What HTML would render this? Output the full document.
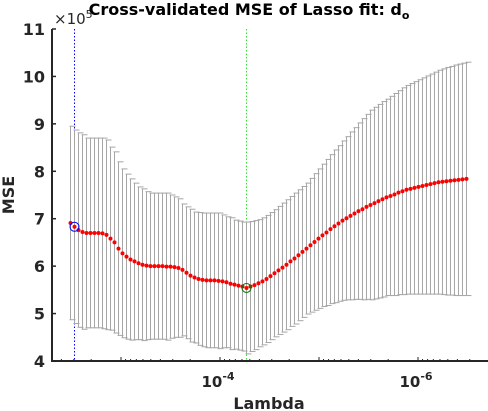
<!DOCTYPE html>
<html><head><meta charset="utf-8">
<style>
html,body{margin:0;padding:0;background:#fff;}
svg{display:block;font-family:"DejaVu Sans","Liberation Sans",sans-serif;}
</style></head>
<body>
<svg id="chart" width="488" height="411" viewBox="0 0 488 411" xmlns="http://www.w3.org/2000/svg">
<g id="grid"></g>
<g id="bars"></g>
<g id="points"></g>
<g id="axes"></g>
<text x="54" y="24" font-size="15" fill="#262626">×10<tspan font-size="11" dy="-6">5</tspan></text>
<text x="249" y="15" text-anchor="middle" font-size="16" font-weight="bold" fill="#000">Cross-validated MSE of Lasso fit: d<tspan font-size="11" dy="4">o</tspan></text>
<text transform="translate(14,195) rotate(-90)" text-anchor="middle" font-size="16" font-weight="bold" fill="#262626">MSE</text>
<text x="269" y="409" text-anchor="middle" font-size="16" font-weight="bold" fill="#262626">Lambda</text>
</svg>
<script>
const meanMSE = [6.91,6.83,6.76,6.72,6.70,6.70,6.70,6.70,6.69,6.66,
6.58,6.50,6.37,6.27,6.20,6.14,6.10,6.06,6.03,6.01,
6.00,6.00,6.00,6.00,5.99,5.99,5.98,5.96,5.92,5.86,
5.80,5.76,5.73,5.71,5.70,5.70,5.70,5.69,5.68,5.66,
5.63,5.61,5.59,5.57,5.54,5.57,5.60,5.64,5.68,5.73,
5.79,5.85,5.91,5.97,6.03,6.10,6.16,6.23,6.30,6.37,
6.44,6.51,6.58,6.65,6.71,6.78,6.84,6.90,6.96,7.01,
7.06,7.11,7.16,7.20,7.25,7.29,7.33,7.37,7.41,7.45,
7.48,7.51,7.55,7.58,7.61,7.63,7.65,7.67,7.69,7.71,
7.73,7.75,7.77,7.78,7.79,7.80,7.81,7.82,7.83,7.84];
const msePlusSE = [8.95,8.87,8.81,8.77,8.70,8.70,8.70,8.70,8.70,8.66,
8.51,8.41,8.20,8.05,7.94,7.84,7.75,7.67,7.63,7.57,
7.54,7.54,7.54,7.54,7.54,7.50,7.46,7.42,7.31,7.25,
7.20,7.14,7.13,7.12,7.12,7.12,7.12,7.12,7.08,7.04,
7.02,6.97,6.95,6.93,6.93,6.94,6.96,6.98,7.02,7.07,
7.13,7.19,7.26,7.33,7.40,7.47,7.54,7.61,7.68,7.75,
7.85,7.95,8.05,8.15,8.25,8.35,8.45,8.54,8.64,8.73,
8.83,8.92,9.02,9.11,9.20,9.29,9.35,9.41,9.47,9.52,
9.58,9.64,9.70,9.76,9.81,9.85,9.89,9.93,9.97,10.01,
10.05,10.09,10.13,10.16,10.19,10.21,10.24,10.26,10.28,10.30];
const logLambdaStart = -2.49;
const logLambdaStep = -0.0404;
const idx1SE = 1;
const idxMin = 44;
const yTicks = [4,5,6,7,8,9,10,11];
const xTickExps = [-4,-6];

const NS="http://www.w3.org/2000/svg";
const svg=document.getElementById('chart');
function mk(tag,attrs,parent){const e=document.createElementNS(NS,tag);for(const k in attrs)e.setAttribute(k,attrs[k]);parent.appendChild(e);return e;}
const X0=52,X1=488,Y0=361,Y1=29;
const xScale=lg=>220+(-4-lg)*99;
const yScale=v=>Y0-(v-4)*(Y0-Y1)/7;
const logL=meanMSE.map((_,i)=>logLambdaStart+i*logLambdaStep);

const bars=document.getElementById('bars');
meanMSE.forEach((m,i)=>{
  const se=msePlusSE[i]-m, x=xScale(logL[i]), yt=yScale(m+se), yb=yScale(m-se);
  const g=mk('g',{stroke:'#a6a6a6','stroke-width':1,fill:'none'},bars);
  
  
  mk('line',{x1:x,x2:x,y1:yt,y2:yb},g);
  mk('line',{x1:x-1,x2:x+5,y1:yt,y2:yt},g);
  mk('line',{x1:x-1,x2:x+5,y1:yb,y2:yb},g);
});
const grid=document.getElementById('grid');
const vl1=mk('line',{x1:xScale(logL[idx1SE]),x2:xScale(logL[idx1SE]),y1:Y1,y2:Y0,stroke:'#0000ff','stroke-width':1,'stroke-dasharray':'1.5,2'},grid);


const vl2=mk('line',{x1:xScale(logL[idxMin]),x2:xScale(logL[idxMin]),y1:Y1,y2:Y0,stroke:'#33dd33','stroke-width':1,'stroke-dasharray':'1.5,2'},grid);



const pts=document.getElementById('points');
meanMSE.forEach((m,i)=>{
  const c=mk('circle',{cx:xScale(logL[i]),cy:yScale(m),r:2,fill:'#ff0000'},pts);
  
  
});
const c1=mk('circle',{cx:xScale(logL[idx1SE]),cy:yScale(meanMSE[idx1SE]),r:4.5,fill:'none',stroke:'#0000ff','stroke-width':1},pts);


const c2=mk('circle',{cx:xScale(logL[idxMin]),cy:yScale(meanMSE[idxMin]),r:4.5,fill:'none',stroke:'#007700','stroke-width':1},pts);



const axes=document.getElementById('axes');
const ya=mk('line',{x1:X0,x2:X0,y1:Y1,y2:Y0+1,stroke:'#262626','stroke-width':2},axes);


const xa=mk('line',{x1:X0-1,x2:X1,y1:Y0,y2:Y0,stroke:'#262626','stroke-width':2},axes);


yTicks.forEach(v=>{
  const y=yScale(v);
  const t=mk('line',{x1:X0,x2:X0+4,y1:y,y2:y,stroke:'#262626','stroke-width':1.5},axes);
  
  
  const l=mk('text',{x:45,y:y+6,'text-anchor':'end','font-size':16,'font-weight':'bold',fill:'#262626'},axes);
  l.textContent=v;
  
  
});
for(let d=-2;d>=-7;d--){
  for(let k=1;k<10;k++){
    const lg=(d-1)+Math.log10(k);
    const x=xScale(lg);
    if(x<X0+1||x>X1-1)continue;
    const t=mk('line',{x1:x,x2:x,y1:Y0,y2:Y0-(k===1?4:2),stroke:'#262626','stroke-width':1},axes);
    
    
  }
}
xTickExps.forEach(e=>{
  const x=xScale(e);
  const l=mk('text',{x:x-2,y:387,'text-anchor':'middle','font-size':15,'font-weight':'bold',fill:'#262626'},axes);
  
  
  l.textContent='10';
  const s=mk('tspan',{'font-size':11,dy:-7},l);
  s.textContent=String(e);
});
</script>
</body></html>
